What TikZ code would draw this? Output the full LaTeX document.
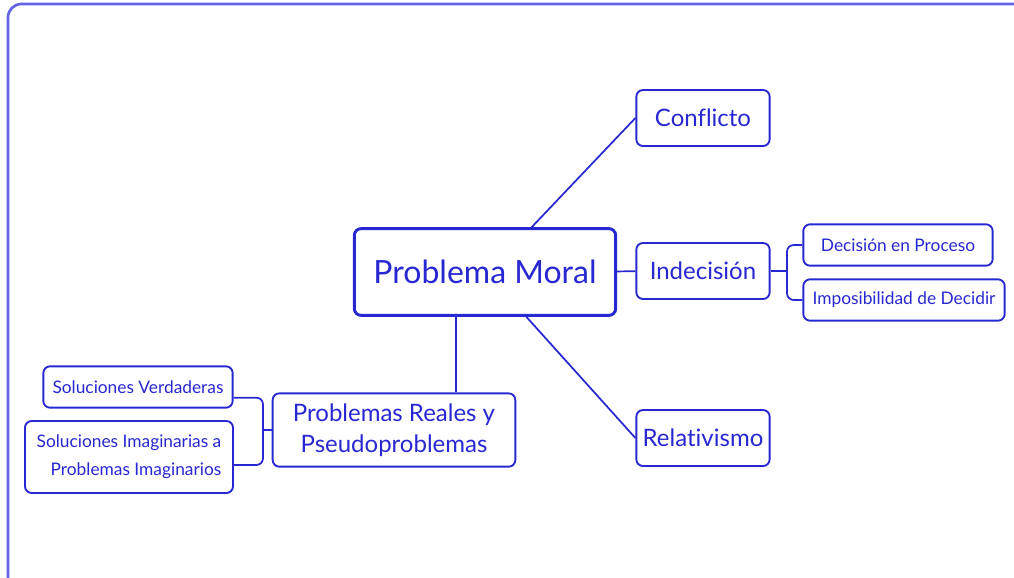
\documentclass[tikz,border=0pt]{standalone}
\usepackage{fontspec}
\setmainfont{Lato}[Ligatures=NoCommon]
\usetikzlibrary{positioning,calc}
\definecolor{mapblue}{RGB}{40,40,210}
\definecolor{frameblue}{RGB}{100,100,230}
\tikzstyle{topic} = [draw=mapblue, text=mapblue, fill=white, rectangle, rounded corners=5pt, line width=1.4pt, inner sep=2pt]
\tikzstyle{central} = [topic, line width=2.2pt, font=\fontsize{24}{28}\selectfont, minimum width=196pt, minimum height=65pt]
\tikzstyle{branch} = [topic, font=\fontsize{18}{23}\selectfont, minimum width=100pt, minimum height=42pt]
\tikzstyle{leaf} = [topic, font=\fontsize{13}{21}\selectfont, minimum height=31pt]
\tikzstyle{link} = [draw=mapblue, line width=1.3pt]

\begin{document}
\begin{tikzpicture}[x=0.75pt, y=-0.75pt]
        \useasboundingbox (0,0) rectangle (1014,578);
        \begin{scope}
            \clip (0,0) rectangle (1014,578);
            \draw [frameblue, line width=2pt, rounded corners=10pt] (8,4) rectangle (1040,600);
        \end{scope}

        \node [central] (moral) at (485,272) {Problema Moral};
        \node [branch] (conf) at (703,118) {Conflicto};
        \node [branch] (indec) at (703,271) {Indecisión};
        \node [branch] (relat) at (703,438) {Relativismo};
        \node [leaf, minimum width=142pt] (proc) at (898,245) {Decisión en Proceso};
        \node [leaf, minimum width=151pt] (impos) at (904,300) {Imposibilidad de Decidir};
        \node [branch, align=center, minimum width=182pt, minimum height=55pt] (pseudo) at (394,430) {Problemas Reales y\\Pseudoproblemas};
        \node [leaf, minimum width=142pt] (verd) at (138,387) {Soluciones Verdaderas};
        \node [leaf, align=right, minimum width=156pt, minimum height=54pt] (imag) at (129,457) {Soluciones Imaginarias a\\Problemas Imaginarios};

        \coordinate (ib) at (787,271);
        \coordinate (pb) at (263,430);

        \draw [link] ([xshift=35pt]moral.north) -- (conf.west);
        \draw [link] (moral) -- (indec);
        \draw [link] ([xshift=31pt]moral.south) -- (relat.west);
        \draw [link] ([xshift=-22pt]moral.south) -- ([xshift=-22pt]moral.south |- pseudo.north);

        \draw [link] (indec) -- (ib);
        \draw [link, rounded corners=5pt] (proc.west) -| (ib) |- (impos.west);
        \draw [link] (pseudo) -- (pb);
        \draw [link, rounded corners=5pt] ([yshift=-8pt]verd.east) -| (pb) |- ([yshift=-6pt]imag.east);
\end{tikzpicture}
\end{document}
